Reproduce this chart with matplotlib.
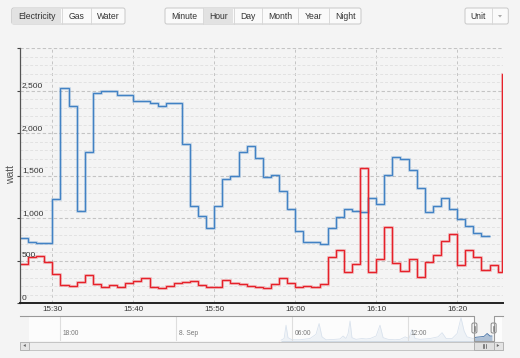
import numpy as np
import pandas as pd
import matplotlib
matplotlib.use('Agg')
import matplotlib.pyplot as plt
import matplotlib.dates as mdates
from matplotlib.patches import FancyBboxPatch, Rectangle, Polygon
from matplotlib import patheffects as pe

plt.rcParams['font.family'] = ['Liberation Sans', 'DejaVu Sans']

# --- data (watt, one value per minute from 15:26) ---
start_time = '2013-09-08 15:26'
blue_watt = [761, 721, 702, 702, 1224, 2529, 2322, 1086, 1780, 2470,
             2498, 2498, 2443, 2443, 2380, 2380, 2353, 2322, 2349, 2349,
             1867, 1145, 1027, 878, 1141, 1459, 1494, 1780, 1847, 1706,
             1482, 1506, 1318, 1106, 851, 714, 714, 690, 882, 1016,
             1102, 1082, 1067, 1235, 1161, 1506, 1718, 1690, 1561, 1349,
             1075, 1145, 1239, 1102, 984, 910, 820, 788]
red_watt = [459, 545, 557, 486, 337, 212, 200, 251, 325, 220,
            192, 208, 192, 235, 263, 298, 188, 180, 204, 231,
            243, 255, 208, 188, 188, 271, 231, 224, 196, 188,
            180, 227, 298, 231, 188, 204, 184, 227, 537, 624,
            369, 459, 1584, 365, 518, 898, 467, 373, 522, 310,
            486, 565, 729, 808, 451, 627, 537, 384, 443, 365]
red_last_time = '2013-09-08 16:25:30'
red_last_watt = 2694
view_end = '2013-09-08 16:25:36'

# navigator overview (hours after 8 Sep 00:00, watt)
nav_hours = [5.43, 5.59, 5.69, 5.79, 6.00, 6.41, 6.93, 7.24, 7.40, 7.55,
             7.76, 8.23, 8.48, 8.64, 8.79, 8.90, 9.00, 9.10, 9.31, 9.62,
             9.83, 10.04, 10.35, 10.55, 10.71, 10.97, 11.33, 11.59, 11.85, 12.05,
             12.21, 12.36, 12.62, 13.14, 13.55, 13.76, 13.97, 14.28, 14.54, 14.74,
             14.90, 15.05, 15.36, 15.52, 15.72, 15.93, 16.09, 16.24, 16.34]
nav_watt = [100, 300, 1900, 400, 150, 150, 300, 800, 2100, 500,
            150, 200, 250, 600, 300, 900, 2400, 400, 200, 300,
            250, 300, 600, 1900, 400, 200, 150, 200, 500, 300,
            1400, 300, 200, 300, 500, 1000, 300, 300, 900, 2800,
            1200, 500, 300, 450, 500, 550, 900, 600, 600]
nav_labels = ['18:00', '8. Sep', '06:00', '12:00']
nav_label_hours = [-6, 0, 6, 12]

data_buttons = ['Electricity', 'Gas', 'Water']
range_buttons = ['Minute', 'Hour', 'Day', 'Month', 'Year', 'Night']

BG = '#f4f4f4'
BLUE = '#4282c4'
RED = '#e6212a'

W, H = 520, 358
fig = plt.figure(figsize=(W / 100, H / 100), dpi=100, facecolor=BG)


def frac(x0, y0, x1, y1):
    # pixel box (top-left origin) -> figure fraction rect
    return [x0 / W, 1 - y1 / H, (x1 - x0) / W, (y1 - y0) / H]


# --- main chart ---
ax = fig.add_axes(frac(20, 48, 502.5, 303))
ax.set_facecolor(BG)

t0 = pd.Timestamp(start_time)
blue_edges = mdates.date2num(pd.date_range(t0, periods=len(blue_watt) + 1, freq='min'))
red_edges = list(mdates.date2num(pd.date_range(t0, periods=len(red_watt), freq='min')))
red_edges += list(mdates.date2num(pd.to_datetime([red_last_time, view_end])))

ax.stairs(blue_watt, blue_edges, baseline=None, color=BLUE, lw=1.0,
          path_effects=[pe.Stroke(linewidth=2.2, foreground=BLUE, alpha=0.2), pe.Normal()])
ax.stairs(red_watt + [red_last_watt], red_edges, baseline=None, color=RED, lw=1.0,
          path_effects=[pe.Stroke(linewidth=2.2, foreground=RED, alpha=0.2), pe.Normal()])

ax.set_xlim(mdates.date2num(t0), mdates.date2num(pd.Timestamp(view_end)))
ax.set_ylim(0, 3000)

ax.xaxis.set_major_locator(mdates.MinuteLocator(byminute=range(0, 60, 10)))
ax.xaxis.set_major_formatter(mdates.DateFormatter('%H:%M'))
ax.set_yticks(range(0, 3001, 500))
ax.set_yticks(range(0, 3001, 100), minor=True)

ax.grid(axis='x', which='major', color='#c4c4c4', ls=(0, (3, 3)), lw=0.7)
ax.grid(axis='y', which='major', color='#c4c4c4', ls=(0, (3, 2)), lw=0.8)
ax.grid(axis='y', which='minor', color='#e2e2e2', ls=(0, (3, 2)), lw=0.7)
ax.set_axisbelow(True)

ax.tick_params(axis='x', length=0, pad=2.5, labelsize=5.8, labelcolor='#333333')
ax.tick_params(axis='y', which='major', length=2, color='#444444', labelleft=False)
ax.tick_params(axis='y', which='minor', length=0)

for side in ['top', 'right']:
    ax.spines[side].set_visible(False)
ax.spines['left'].set_color('#555555')
ax.spines['left'].set_linewidth(0.9)
ax.spines['bottom'].set_color('#222222')
ax.spines['bottom'].set_linewidth(1.4)

for v in range(0, 3000, 500):
    ax.annotate(f'{v:,}', (0, v), xycoords=('axes fraction', 'data'),
                xytext=(1.5, 1.0), textcoords='offset points',
                ha='left', va='bottom', fontsize=6, color='#333333')

fig.text(11 / W, 1 - 174 / H, 'watt', rotation=90, ha='center', va='center',
         fontsize=7.5, color='#555555')

# --- navigator ---
nav = fig.add_axes(frac(20, 316, 502, 341))
nav.set_facecolor(BG)
nav.fill_between(nav_hours, nav_watt, color='#4572a7', alpha=0.4, lw=0)
nav.plot(nav_hours, nav_watt, color='#4572a7', lw=0.6)
nav.set_xlim(-8.07, 16.86)
nav.set_ylim(0, 3000)
sel_start = 15 + 26 / 60
sel_end = 16 + 25.6 / 60
nav.axvspan(-7.6, sel_start, color='white', alpha=0.8, lw=0, zorder=3)
nav.axvspan(sel_end, 16.86, color='white', alpha=0.8, lw=0, zorder=3)
for h, lbl in zip(nav_label_hours, nav_labels):
    nav.axvline(h, color='#dedede', lw=0.8, zorder=4)
    nav.annotate(lbl, (h, 0.15), xycoords=('data', 'axes fraction'),
                 xytext=(2, 0), textcoords='offset points',
                 ha='left', va='bottom', fontsize=4.8, color='#777777', zorder=5)
nav.set_xticks([])
nav.set_yticks([])
for s in nav.spines.values():
    s.set_visible(False)

# --- overlay in pixel coordinates (buttons, outline, scrollbar) ---
ui = fig.add_axes([0, 0, 1, 1], facecolor='none', zorder=5)
ui.set_xlim(0, W)
ui.set_ylim(H, 0)
ui.axis('off')


def button_group(x_edges, labels, pressed, y0=8, y1=24):
    ui.add_patch(FancyBboxPatch((x_edges[0], y0), x_edges[-1] - x_edges[0], y1 - y0,
                                boxstyle='round,pad=0,rounding_size=2',
                                fc='#fafafa', ec='#c8c8c8', lw=0.7))
    for i, lbl in enumerate(labels):
        xa, xb = x_edges[i], x_edges[i + 1]
        if lbl == pressed:
            ui.add_patch(Rectangle((xa + 0.5, y0 + 0.5), xb - xa - 1, y1 - y0 - 1,
                                   fc='#e2e2e2', ec='none'))
        if i > 0:
            ui.plot([xa, xa], [y0, y1], color='#d8d8d8', lw=0.7)
        ui.text((xa + xb) / 2, (y0 + y1) / 2 + 0.3, lbl, ha='center', va='center',
                fontsize=6.2, color='#333333')


button_group([11.7, 61.7, 90.7, 125], data_buttons, 'Electricity')
button_group([165, 203, 233.7, 261.7, 298, 329, 361], range_buttons, 'Hour')
button_group([465, 492, 508.3], ['Unit', ''], None)
ui.add_patch(Polygon([[498, 15], [502, 15], [500, 17.5]], closed=True, fc='#aaaaaa', ec='none'))

# navigator outline
sx0 = 20 + (sel_start + 8.07) / 24.93 * 482
sx1 = 20 + (sel_end + 8.07) / 24.93 * 482
ui.plot([20, sx0, sx0, sx1, sx1, 502.5], [316, 316, 341, 341, 316, 316],
        color='#999999', lw=0.8)

# scrollbar
ui.add_patch(Rectangle((20, 341.5), 482.5, 8, fc='#eeeeee', ec='#c4c4c4', lw=0.7))
for bx in (20, 493.5):
    ui.add_patch(Rectangle((bx, 341.5), 9, 8, fc='#e4e4e4', ec='#b4b4b4', lw=0.7))
ui.add_patch(Polygon([[23.3, 345.5], [25.8, 344], [25.8, 347]], closed=True, fc='#666666', ec='none'))
ui.add_patch(Polygon([[499.3, 345.5], [496.8, 344], [496.8, 347]], closed=True, fc='#666666', ec='none'))
ui.add_patch(Rectangle((sx0, 341.5), sx1 - sx0, 8, fc='#e0e0e0', ec='#b0b0b0', lw=0.7))
for dx in (-1.5, 0, 1.5):
    ui.plot([(sx0 + sx1) / 2 + dx] * 2, [343.5, 347.5], color='#555555', lw=0.5)

# navigator handles
for hx in (sx0, sx1):
    ui.add_patch(FancyBboxPatch((hx - 2.5, 323), 5, 10,
                                boxstyle='round,pad=0,rounding_size=1.5',
                                fc='#f8f8f8', ec='#888888', lw=0.7))
    for dx in (-0.8, 0.8):
        ui.plot([hx + dx] * 2, [325.5, 330.5], color='#777777', lw=0.5)

fig.savefig('out.png', dpi=100, facecolor=BG)
